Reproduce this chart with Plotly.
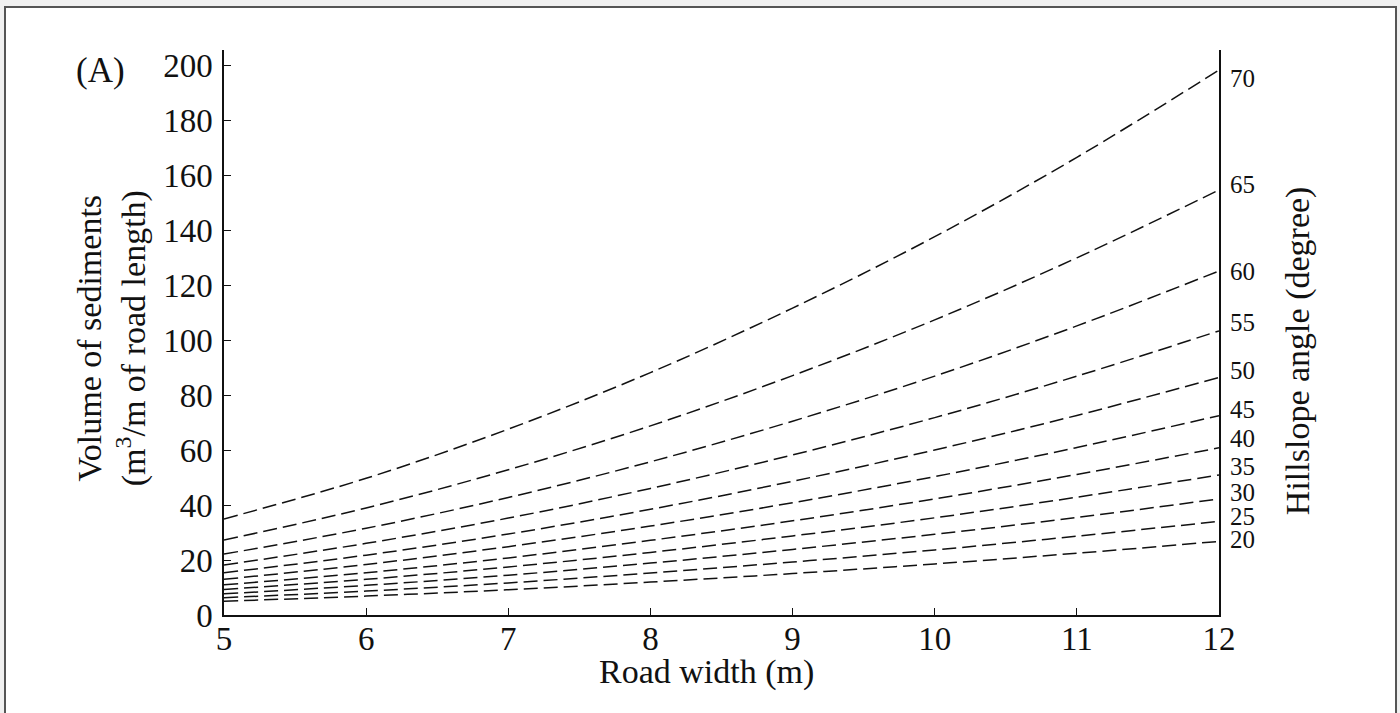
import plotly.graph_objects as go

road_width = [5, 6, 7, 8, 9, 10, 11, 12]
hillslope_angles = [70, 65, 60, 55, 50, 45, 40, 35, 30, 25, 20]

vol_70 = [35.0, 49.8, 67.7, 88.3, 111.8, 137.8, 166.7, 198.5]
vol_65 = [27.3, 39.0, 52.9, 68.9, 87.2, 107.5, 130.1, 154.8]
vol_60 = [22.2, 31.6, 42.8, 55.8, 70.6, 87.0, 105.3, 125.3]
vol_55 = [18.2, 26.1, 35.3, 46.1, 58.3, 71.9, 87.0, 103.5]
vol_50 = [15.4, 21.8, 29.5, 38.5, 48.7, 60.1, 72.7, 86.5]
vol_45 = [13.0, 18.4, 24.9, 32.4, 40.9, 50.4, 61.0, 72.6]
vol_40 = [11.0, 15.4, 20.8, 27.2, 34.3, 42.3, 51.2, 60.9]
vol_35 = [9.3, 13.0, 17.5, 22.8, 28.8, 35.4, 42.9, 51.0]
vol_30 = [7.7, 10.8, 14.5, 18.9, 23.9, 29.4, 35.5, 42.3]
vol_25 = [6.3, 8.7, 11.7, 15.3, 19.3, 23.7, 28.7, 34.1]
vol_20 = [5.0, 6.9, 9.2, 12.0, 15.1, 18.6, 22.5, 26.8]

series = [vol_70, vol_65, vol_60, vol_55, vol_50, vol_45,
          vol_40, vol_35, vol_30, vol_25, vol_20]

# pixel offsets of the angle labels relative to each line end (style)
label_yshift = [-8, 6, 0, 8, 7, 6, 9, 8, 6, 5, 2]

FONT = "Liberation Serif"
INK = "#111111"

fig = go.Figure()
for ang, vals in zip(hillslope_angles, series):
    fig.add_trace(go.Scatter(
        x=road_width, y=vals, mode="lines", line_shape="spline",
        line=dict(color=INK, width=1.5, dash="14px,6px"),
        name=f"{ang}", showlegend=False, hoverinfo="skip"))

for ang, vals, ys in zip(hillslope_angles, series, label_yshift):
    fig.add_annotation(x=road_width[-1], y=vals[-1], text=str(ang),
                       xref="x", yref="y", showarrow=False,
                       xanchor="left", yanchor="middle", xshift=9, yshift=ys,
                       font=dict(family=FONT, size=25, color=INK))

# Frame around the figure
fig.add_shape(type="rect", xref="paper", yref="paper",
              x0=-0.2201, x1=1.1779, y0=-0.20, y1=1.0761,
              line=dict(color="#555555", width=2), fillcolor="white",
              layer="below")

fig.add_annotation(x=-0.1246, y=0.9646, xref="paper", yref="paper", text="(A)",
                   showarrow=False, xanchor="center", yanchor="middle",
                   font=dict(family=FONT, size=35, color=INK))

fig.add_annotation(x=-0.1125, y=0.49, xref="paper", yref="paper",
                   text="Volume of sediments<br>(m<sup>3</sup>/m of road length)",
                   textangle=-90, showarrow=False, xanchor="center", yanchor="middle",
                   font=dict(family=FONT, size=34, color=INK))

fig.add_annotation(x=1.0794, y=0.467, xref="paper", yref="paper",
                   text="Hillslope angle (degree)",
                   textangle=-90, showarrow=False, xanchor="center", yanchor="middle",
                   font=dict(family=FONT, size=34, color=INK))

fig.add_annotation(x=0.4849, y=-0.1, xref="paper", yref="paper",
                   text="Road width (m)", showarrow=False,
                   xanchor="center", yanchor="middle",
                   font=dict(family=FONT, size=34, color=INK))

fig.update_layout(
    width=1400, height=713,
    margin=dict(l=224, r=181, t=50, b=98),
    paper_bgcolor="#f0f0f0", plot_bgcolor="rgba(0,0,0,0)",
    font=dict(family=FONT, color=INK),
    xaxis=dict(range=[5, 12], tickvals=road_width, ticks="inside", ticklen=7,
               tickwidth=1.2, tickcolor=INK, showgrid=False, zeroline=False,
               showline=True, linecolor=INK, linewidth=1.5, mirror=False,
               ticklabelstandoff=-6,
               tickfont=dict(family=FONT, size=33, color=INK)),
    yaxis=dict(range=[0, 205.8], tickvals=list(range(0, 201, 20)), ticks="inside",
               ticklen=7, tickwidth=1.2, tickcolor=INK, showgrid=False,
               zeroline=False, showline=True, linecolor=INK, linewidth=1.5,
               mirror=True, ticklabelstandoff=3,
               tickfont=dict(family=FONT, size=33, color=INK)),
)

fig.write_html("out.html")
